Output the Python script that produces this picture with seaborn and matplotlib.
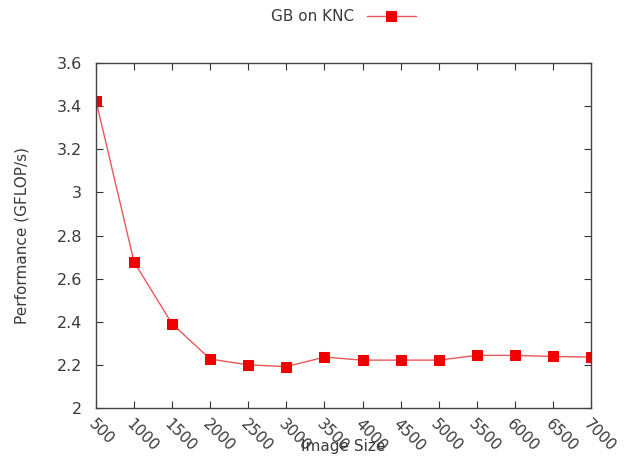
import matplotlib
matplotlib.use("Agg")
import matplotlib.pyplot as plt
import seaborn as sns
import pandas as pd

image_size = [500, 1000, 1500, 2000, 2500, 3000, 3500, 4000, 4500, 5000, 5500, 6000, 6500, 7000]
performance = [3.425, 2.677, 2.390, 2.227, 2.200, 2.192, 2.236, 2.222, 2.222, 2.222, 2.244, 2.244, 2.239, 2.236]
x_ticks = [500, 1000, 1500, 2000, 2500, 3000, 3500, 4000, 4500, 5000, 5500, 6000, 6500, 7000]
y_ticks = [2, 2.2, 2.4, 2.6, 2.8, 3, 3.2, 3.4, 3.6]
y_tick_labels = ["2", "2.2", "2.4", "2.6", "2.8", "3", "3.2", "3.4", "3.6"]
series_name = "GB on KNC"

df = pd.DataFrame({"Image Size": image_size, "Performance": performance, "series": series_name})

sns.set_style("ticks")
plt.rcParams['font.family'] = ['DejaVu Sans']
text_color = "#3a3a3a"

fig = plt.figure(figsize=(6.26, 4.58), dpi=100)
ax = fig.add_axes([96/626, 50/458, (591-96)/626, (408-63)/458])

sns.lineplot(data=df, x="Image Size", y="Performance", hue="series",
             palette={series_name: "#e8585a"}, marker="s", markersize=7,
             markerfacecolor="#ee0000", markeredgecolor="#ee0000",
             linewidth=1.0, ax=ax)

ax.set_xlim(500, 7000)
ax.set_ylim(2, 3.6)
ax.set_xticks(x_ticks)
ax.set_xticklabels([str(v) for v in x_ticks], rotation=-45, ha="left", va="top",
                   rotation_mode="anchor", fontsize=11, color=text_color)
ax.set_yticks(y_ticks)
ax.set_yticklabels(y_tick_labels, fontsize=11.5, color=text_color)
ax.tick_params(direction="in", length=5, width=0.8, top=True, right=True, color="#333333")
ax.tick_params(axis="x", pad=6)
ax.tick_params(axis="y", pad=10)
for s in ax.spines.values():
    s.set_visible(True)
    s.set_color("#444444")
    s.set_linewidth(1.0)

ax.set_xlabel("Image Size", fontsize=11, color=text_color)
ax.set_ylabel("Performance (GFLOP/s)", fontsize=11, color=text_color)
ax.xaxis.set_label_coords((343-96)/(591-96), -(439-408)/(408-63))
ax.yaxis.set_label_coords(-(96-30)/(591-96), (408-235)/(408-63))

leg = ax.legend(loc="center", bbox_to_anchor=(0.5, 1 + (63-17)/(408-63)),
                frameon=False, fontsize=11, handlelength=3.2, markerfirst=False)
for t in leg.get_texts():
    t.set_color(text_color)

fig.savefig("out.png", dpi=100)
